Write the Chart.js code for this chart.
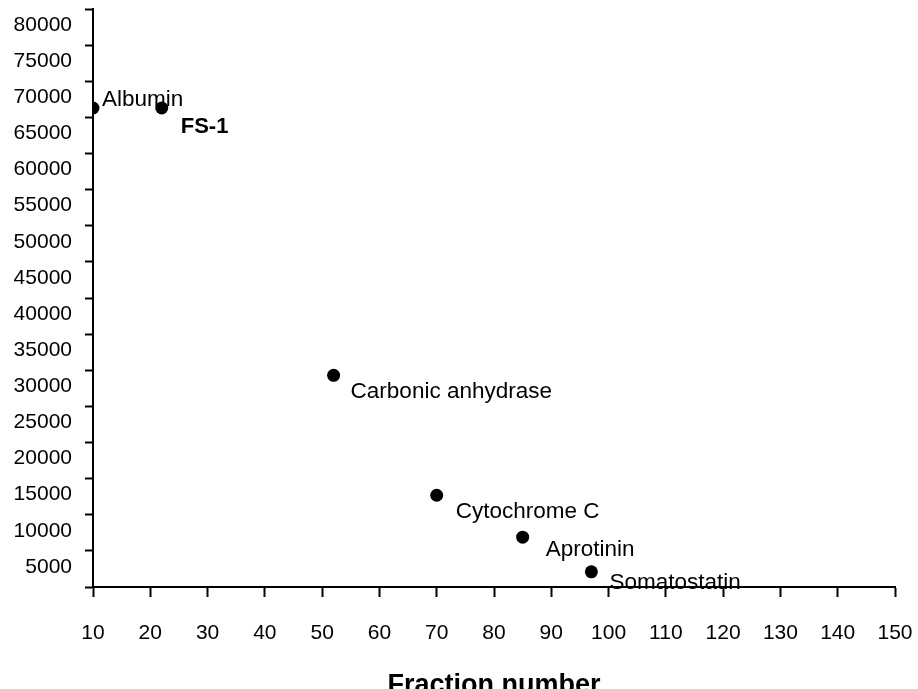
<!DOCTYPE html>
<html>
<head>
<meta charset="utf-8">
<script src="https://cdn.jsdelivr.net/npm/chart.js@4"></script>
<style>
  html, body { margin: 0; padding: 0; background: #fff; }
  canvas { display: block; }
</style>
</head>
<body>
<canvas id="chart" width="918" height="689"></canvas>
<script>
// Datos del gráfico
const proteins = ["Albumin", "FS-1", "Carbonic anhydrase", "Cytochrome C", "Aprotinin", "Somatostatin"];
const fractions = [10, 22, 52, 70, 85, 97];
const molWeights = [66300, 66300, 29300, 12700, 6900, 2100];
const boldLabels = ["FS-1"];

// Posición de las etiquetas respecto al punto (px)
const labelOffsets = [[9, -8], [19, 19], [17, 16], [19, 17], [23, 13], [18, 11]];

const FONT = "'Liberation Sans', Arial, sans-serif";

const points = fractions.map((f, i) => ({ x: f, y: molWeights[i] }));

// Plugin para etiquetas de los puntos y título del eje X
const labelsPlugin = {
  id: "pointLabels",
  afterDatasetsDraw(chart) {
    const ctx = chart.ctx;
    const meta = chart.getDatasetMeta(0);
    ctx.save();
    ctx.fillStyle = "#000";
    ctx.textAlign = "left";
    ctx.textBaseline = "middle";
    meta.data.forEach((el, i) => {
      const name = proteins[i];
      const bold = boldLabels.includes(name);
      ctx.font = bold ? "bold 22px " + FONT : "22.5px " + FONT;
      ctx.fillText(name, el.x + labelOffsets[i][0], el.y + labelOffsets[i][1]);
    });
    // título del eje X (cortado abajo como en el original)
    const area = chart.chartArea;
    ctx.font = "bold 27px " + FONT;
    ctx.textAlign = "center";
    ctx.textBaseline = "alphabetic";
    ctx.fillText("Fraction number", (area.left + area.right) / 2, 693);
    ctx.restore();
  },
};

// Quitar el relleno automático de las escalas para fijar el área del gráfico
const noPad = (scale) => {
  scale.paddingTop = 0;
  scale.paddingBottom = 0;
  scale.paddingLeft = 0;
  scale.paddingRight = 0;
};

const ctx = document.getElementById("chart").getContext("2d");
const chart = new Chart(ctx, {
  type: "scatter",
  data: {
    datasets: [
      {
        data: points,
        backgroundColor: "#000",
        borderWidth: 0,
        pointRadius: 6.5,
        pointHoverRadius: 6.5,
      },
    ],
  },
  options: {
    responsive: false,
    animation: false,
    layout: { padding: { top: 9, right: 23, left: 0, bottom: 0 } },
    plugins: {
      legend: { display: false },
      tooltip: { enabled: false },
    },
    scales: {
      x: {
        type: "linear",
        min: 10,
        max: 150,
        afterFit: (scale) => { scale.height = 102; noPad(scale); },
        ticks: {
          stepSize: 10,
          color: "#000",
          font: { family: FONT, size: 21 },
          padding: 24,
          maxRotation: 0,
        },
        grid: {
          drawOnChartArea: false,
          drawTicks: true,
          tickLength: 10,
          tickColor: "#000",
          tickWidth: 2,
        },
        border: { display: true, color: "#000", width: 2 },
      },
      y: {
        type: "linear",
        min: 0,
        max: 80000,
        afterFit: (scale) => { scale.width = 93; noPad(scale); },
        ticks: {
          stepSize: 5000,
          color: "#000",
          font: { family: FONT, size: 21 },
          padding: 13,
          labelOffset: 16,
          callback: (v) => (v === 0 ? "" : String(v)),
        },
        grid: {
          drawOnChartArea: false,
          drawTicks: true,
          tickLength: 8,
          tickColor: "#000",
          tickWidth: 2,
        },
        border: { display: true, color: "#000", width: 2 },
      },
    },
  },
  plugins: [labelsPlugin],
});
</script>
</body>
</html>
